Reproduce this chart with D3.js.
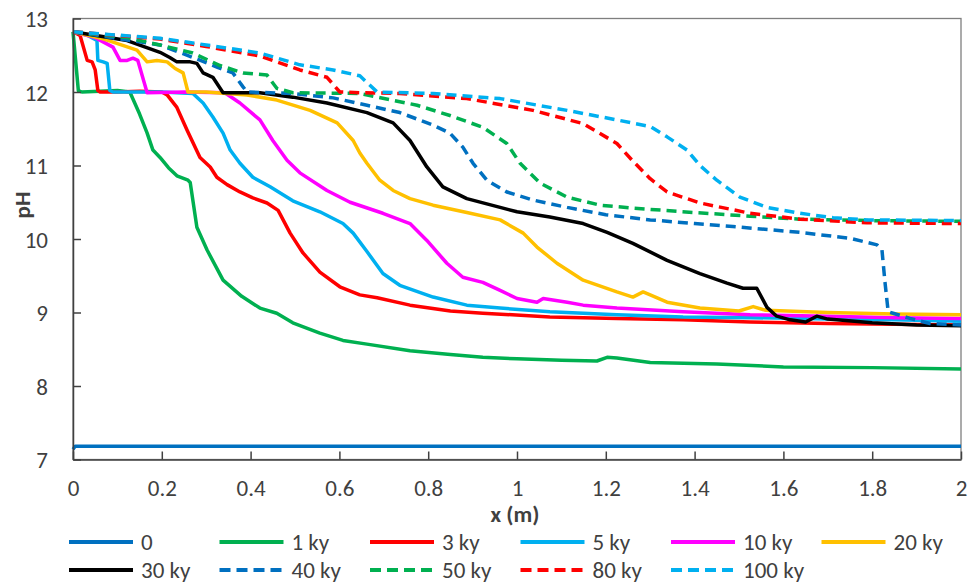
<!DOCTYPE html>
<html>
<head>
<meta charset="utf-8">
<script src="https://cdn.jsdelivr.net/npm/d3@7"></script>
<style>
  html, body { margin: 0; padding: 0; background: #fff; }
  svg text { font-family: Carlito, Lato, "Liberation Sans", sans-serif; fill: #404040; }
</style>
</head>
<body>
<svg id="chart" width="971" height="585"></svg>
<script>
// pH profiles along x (m) at successive times
const seriesNames = ["0", "1 ky", "3 ky", "5 ky", "10 ky", "20 ky", "30 ky", "40 ky", "50 ky", "80 ky", "100 ky"];

const x0 = [0, 0.005, 2];
const pH0 = [7.14, 7.18, 7.18];

const x1ky = [0, 0.012, 0.02, 0.06, 0.1, 0.128, 0.15, 0.167, 0.18, 0.196, 0.215, 0.234, 0.259, 0.264, 0.279, 0.302, 0.338, 0.38, 0.421, 0.459, 0.495, 0.556, 0.608, 0.662, 0.759, 0.85, 0.923, 1.0, 1.1, 1.18, 1.203, 1.225, 1.3, 1.45, 1.6, 1.8, 2.0];
const pH1ky = [12.82, 12.02, 12.0, 12.01, 12.02, 12.0, 11.7, 11.44, 11.21, 11.11, 10.97, 10.86, 10.8, 10.77, 10.16, 9.85, 9.44, 9.22, 9.06, 8.99, 8.86, 8.72, 8.62, 8.57, 8.48, 8.43, 8.39, 8.37, 8.35, 8.34, 8.39, 8.38, 8.32, 8.3, 8.26, 8.25, 8.23];

const x3ky = [0, 0.016, 0.032, 0.043, 0.05, 0.056, 0.061, 0.1, 0.15, 0.2, 0.212, 0.234, 0.257, 0.286, 0.309, 0.324, 0.347, 0.376, 0.405, 0.437, 0.462, 0.489, 0.518, 0.556, 0.601, 0.646, 0.685, 0.759, 0.85, 0.923, 1.074, 1.225, 1.374, 1.525, 1.7, 1.85, 2.0];
const pH3ky = [12.82, 12.77, 12.43, 12.41, 12.3, 12.02, 12.0, 12.0, 12.01, 12.0, 11.96, 11.79, 11.48, 11.11, 10.98, 10.84, 10.74, 10.64, 10.56, 10.49, 10.39, 10.08, 9.81, 9.55, 9.35, 9.24, 9.2, 9.1, 9.02, 8.99, 8.94, 8.92, 8.9, 8.87, 8.85, 8.84, 8.83];

const x5ky = [0, 0.03, 0.054, 0.056, 0.068, 0.077, 0.083, 0.09, 0.15, 0.2, 0.27, 0.293, 0.315, 0.338, 0.354, 0.376, 0.405, 0.444, 0.495, 0.556, 0.608, 0.631, 0.662, 0.698, 0.736, 0.811, 0.887, 0.962, 1.074, 1.225, 1.374, 1.525, 1.7, 1.85, 2.0];
const pH5ky = [12.82, 12.78, 12.7, 12.43, 12.41, 12.39, 12.02, 12.0, 12.0, 12.0, 11.98, 11.85, 11.66, 11.44, 11.21, 11.03, 10.84, 10.71, 10.52, 10.37, 10.21, 10.08, 9.83, 9.53, 9.37, 9.21, 9.1, 9.06, 9.01, 8.97, 8.94, 8.93, 8.91, 8.9, 8.88];

const x10ky = [0, 0.05, 0.09, 0.106, 0.122, 0.135, 0.146, 0.167, 0.25, 0.342, 0.376, 0.421, 0.45, 0.482, 0.511, 0.572, 0.624, 0.698, 0.759, 0.797, 0.842, 0.878, 0.923, 0.962, 1.0, 1.045, 1.059, 1.113, 1.149, 1.225, 1.374, 1.525, 1.7, 1.85, 2.0];
const pH10ky = [12.82, 12.74, 12.61, 12.43, 12.43, 12.46, 12.43, 11.99, 12.0, 11.99, 11.85, 11.62, 11.34, 11.07, 10.9, 10.66, 10.5, 10.35, 10.21, 9.98, 9.67, 9.48, 9.41, 9.3, 9.19, 9.14, 9.19, 9.14, 9.1, 9.06, 9.01, 8.97, 8.95, 8.93, 8.92];

const x20ky = [0, 0.07, 0.144, 0.167, 0.189, 0.212, 0.23, 0.248, 0.259, 0.3, 0.392, 0.459, 0.534, 0.595, 0.631, 0.646, 0.662, 0.691, 0.721, 0.759, 0.811, 0.887, 0.962, 1.014, 1.045, 1.09, 1.149, 1.225, 1.261, 1.284, 1.3, 1.338, 1.412, 1.5, 1.532, 1.56, 1.7, 1.85, 2.0];
const pH20ky = [12.82, 12.72, 12.57, 12.41, 12.43, 12.41, 12.32, 12.26, 12.0, 12.0, 11.96, 11.89, 11.75, 11.58, 11.34, 11.17, 11.03, 10.8, 10.66, 10.55, 10.46, 10.36, 10.26, 10.08, 9.89, 9.67, 9.44, 9.28, 9.21, 9.28, 9.24, 9.14, 9.06, 9.02, 9.08, 9.03, 9.0, 8.98, 8.97];

const x30ky = [0, 0.122, 0.196, 0.218, 0.234, 0.264, 0.279, 0.293, 0.315, 0.338, 0.421, 0.495, 0.572, 0.662, 0.721, 0.759, 0.797, 0.833, 0.887, 0.962, 1.0, 1.074, 1.149, 1.203, 1.261, 1.338, 1.412, 1.473, 1.509, 1.54, 1.563, 1.585, 1.615, 1.65, 1.675, 1.7, 1.8, 1.9, 2.0];
const pH30ky = [12.82, 12.7, 12.54, 12.47, 12.41, 12.41, 12.39, 12.26, 12.2, 11.99, 11.99, 11.93, 11.85, 11.72, 11.58, 11.34, 10.98, 10.71, 10.55, 10.43, 10.37, 10.3, 10.21, 10.09, 9.94, 9.71, 9.53, 9.4, 9.33, 9.33, 9.07, 8.95, 8.9, 8.87, 8.95, 8.91, 8.86, 8.83, 8.82];

const x40ky = [0, 0.196, 0.27, 0.324, 0.36, 0.383, 0.392, 0.495, 0.586, 0.662, 0.736, 0.811, 0.849, 0.878, 0.901, 0.932, 0.977, 1.036, 1.113, 1.2, 1.3, 1.4, 1.486, 1.637, 1.75, 1.811, 1.822, 1.829, 1.836, 1.847, 1.885, 1.93, 2.0];
const pH40ky = [12.82, 12.64, 12.47, 12.34, 12.26, 12.07, 12.0, 11.98, 11.92, 11.82, 11.72, 11.55, 11.44, 11.25, 11.03, 10.8, 10.64, 10.53, 10.43, 10.33, 10.26, 10.21, 10.17, 10.09, 10.01, 9.92, 9.85, 9.4, 9.01, 8.99, 8.92, 8.85, 8.83];

const x50ky = [0, 0.122, 0.196, 0.27, 0.331, 0.383, 0.437, 0.459, 0.495, 0.646, 0.775, 0.849, 0.923, 0.977, 1.007, 1.052, 1.113, 1.187, 1.261, 1.4, 1.525, 1.637, 1.8, 2.0];
const pH50ky = [12.82, 12.74, 12.64, 12.53, 12.36, 12.26, 12.23, 12.05, 11.99, 11.98, 11.82, 11.68, 11.52, 11.3, 11.03, 10.76, 10.57, 10.46, 10.42, 10.36, 10.31, 10.27, 10.25, 10.24];

const x80ky = [0, 0.196, 0.3, 0.421, 0.511, 0.572, 0.601, 0.65, 0.736, 0.887, 1.036, 1.149, 1.225, 1.261, 1.3, 1.338, 1.412, 1.525, 1.637, 1.788, 2.0];
const pH80ky = [12.82, 12.72, 12.62, 12.49, 12.3, 12.2, 12.0, 11.99, 11.98, 11.91, 11.75, 11.57, 11.3, 11.06, 10.82, 10.64, 10.49, 10.35, 10.27, 10.22, 10.21];

const x100ky = [0, 0.196, 0.3, 0.421, 0.511, 0.586, 0.646, 0.662, 0.685, 0.811, 0.962, 1.113, 1.225, 1.3, 1.338, 1.383, 1.412, 1.45, 1.502, 1.563, 1.637, 1.712, 1.788, 2.0];
const pH100ky = [12.82, 12.73, 12.64, 12.53, 12.37, 12.3, 12.22, 12.13, 12.0, 11.98, 11.91, 11.75, 11.62, 11.53, 11.39, 11.21, 11.0, 10.8, 10.57, 10.43, 10.35, 10.29, 10.26, 10.25];

const seriesX = [x0, x1ky, x3ky, x5ky, x10ky, x20ky, x30ky, x40ky, x50ky, x80ky, x100ky];
const seriesPH = [pH0, pH1ky, pH3ky, pH5ky, pH10ky, pH20ky, pH30ky, pH40ky, pH50ky, pH80ky, pH100ky];
const seriesColors = ["#0070C0", "#00B050", "#FF0000", "#00B0F0", "#FF00FF", "#FFC000", "#000000", "#0070C0", "#00B050", "#FF0000", "#00B0F0"];
const seriesDashed = [false, false, false, false, false, false, false, true, true, true, true];

const xTicks = [0, 0.2, 0.4, 0.6, 0.8, 1, 1.2, 1.4, 1.6, 1.8, 2];
const yTicks = [7, 8, 9, 10, 11, 12, 13];

const fontStack = "Carlito, Lato, 'Liberation Sans', sans-serif";
const fontSize = 23;

const svg = d3.select("#chart");
const plot = { left: 73, right: 961, top: 18.5, bottom: 459.5 };

const x = d3.scaleLinear().domain([0, 2]).range([plot.left, plot.right]);
const y = d3.scaleLinear().domain([7, 13]).range([plot.bottom, plot.top]);

// plot frame (top and right edges)
svg.append("rect")
  .attr("x", plot.left).attr("y", plot.top)
  .attr("width", plot.right - plot.left).attr("height", plot.bottom - plot.top)
  .attr("fill", "none").attr("stroke", "#7f7f7f").attr("stroke-width", 1.3);

// curves
const line = d3.line().x(d => x(d[0])).y(d => y(d[1]));
seriesNames.forEach((name, i) => {
  const pts = seriesX[i].map((v, k) => [v, seriesPH[i][k]]);
  svg.append("path")
    .datum(pts)
    .attr("d", line)
    .attr("fill", "none")
    .attr("stroke", seriesColors[i])
    .attr("stroke-width", 3.5)
    .attr("stroke-linejoin", "round")
    .attr("stroke-dasharray", seriesDashed[i] ? "10,6" : null);
});

// axes with inward ticks
const xAxis = svg.append("g")
  .attr("transform", `translate(0,${plot.bottom})`)
  .call(d3.axisBottom(x).tickValues(xTicks).tickSizeInner(-8).tickSizeOuter(0)
    .tickPadding(23).tickFormat(d => String(d)));
const yAxis = svg.append("g")
  .attr("transform", `translate(${plot.left},0)`)
  .call(d3.axisLeft(y).tickValues(yTicks).tickSizeInner(-8).tickSizeOuter(0)
    .tickPadding(25).tickFormat(d3.format("d")));

[xAxis, yAxis].forEach(g => {
  g.select(".domain").attr("stroke", "#404040").attr("stroke-width", 1.5);
  g.selectAll(".tick line").attr("stroke", "#404040").attr("stroke-width", 1.5);
  g.selectAll(".tick text").attr("font-size", fontSize).attr("fill", "#404040")
    .style("font-family", fontStack);
});
xAxis.selectAll(".tick text").attr("dy", "0.6em");
yAxis.selectAll(".tick text").attr("dy", "0.35em");

// axis titles
svg.append("text")
  .attr("x", 515).attr("y", 522)
  .attr("text-anchor", "middle")
  .attr("font-size", fontSize).attr("font-weight", "bold")
  .text("x (m)");
svg.append("text")
  .attr("transform", "translate(30,205) rotate(-90)")
  .attr("text-anchor", "middle")
  .attr("font-size", fontSize).attr("font-weight", "bold")
  .text("pH");

// legend: two rows of six slots
const legend = svg.append("g");
seriesNames.forEach((name, i) => {
  const col = i % 6, row = Math.floor(i / 6);
  const lx = 69 + col * 150.5;
  const ly = 542 + row * 28;
  legend.append("line")
    .attr("x1", lx).attr("x2", lx + 64)
    .attr("y1", ly).attr("y2", ly)
    .attr("stroke", seriesColors[i]).attr("stroke-width", 4)
    .attr("stroke-dasharray", seriesDashed[i] ? "11,6" : null);
  legend.append("text")
    .attr("x", lx + 72).attr("y", ly)
    .attr("dy", "0.35em")
    .attr("font-size", fontSize)
    .text(name);
});
</script>
</body>
</html>
